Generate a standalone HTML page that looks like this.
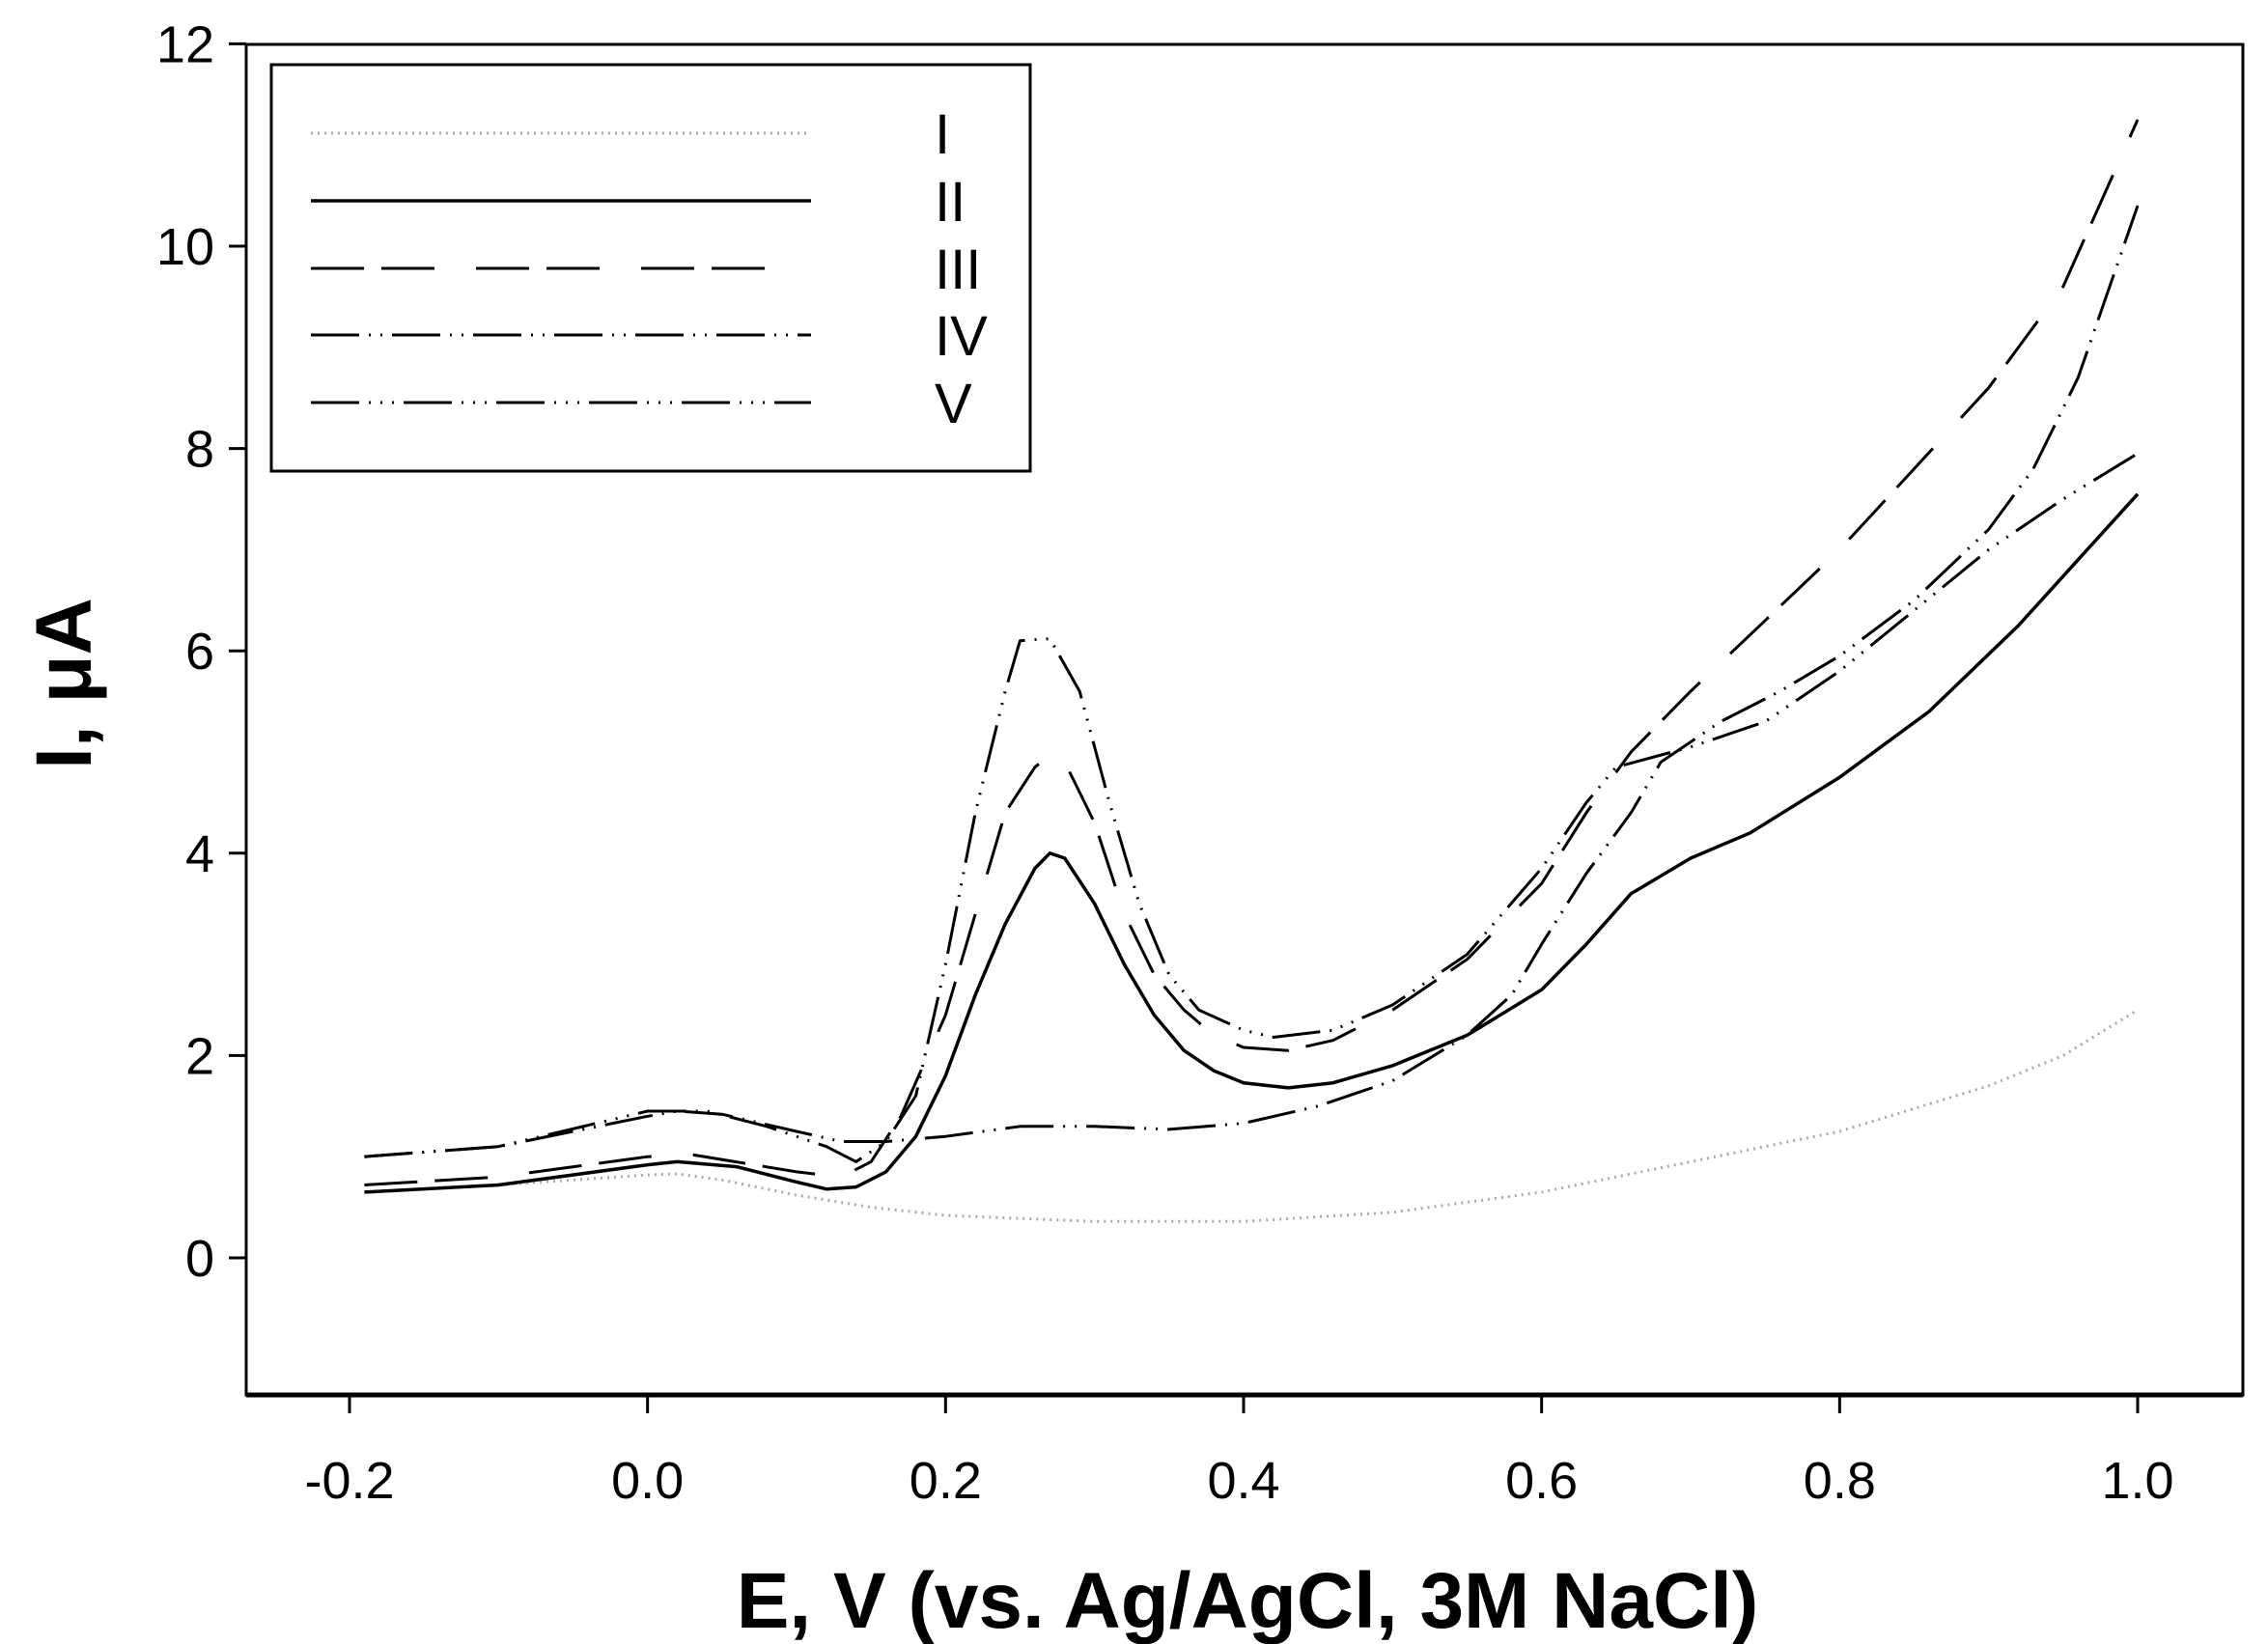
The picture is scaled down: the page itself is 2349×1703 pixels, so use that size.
<!DOCTYPE html>
<html><head><meta charset="utf-8"><style>
html,body{margin:0;padding:0;background:#fff;}
svg{display:block;font-family:"Liberation Sans",Arial,sans-serif;}
</style></head><body>
<svg id="s" width="2349" height="1703" viewBox="0 0 2349 1703" xmlns="http://www.w3.org/2000/svg">
<rect x="0" y="0" width="2349" height="1703" fill="#fff"/>
<rect x="255" y="46" width="2068" height="1399" fill="none" stroke="#000" stroke-width="3"/>
<line x1="255" y1="1445" x2="2323" y2="1445" stroke="#000" stroke-width="5"/>
<g id="ticks" stroke="#000" stroke-width="3"></g>
<g id="labels" font-size="54" fill="#000"></g>
<g id="curves" fill="none" stroke="#000" stroke-width="3" stroke-linejoin="round"></g>
<rect x="281" y="67" width="786" height="421" fill="none" stroke="#000" stroke-width="3"/>
<g stroke-width="3">
<line x1="322" y1="138" x2="840" y2="138" stroke="#aaa" stroke-dasharray="2 5"/>
<line x1="322" y1="208" x2="840" y2="208" stroke="#000" stroke-width="3.5"/>
<line x1="322" y1="278" x2="800" y2="278" stroke="#000" stroke-dasharray="55 18 55 43"/>
<line x1="322" y1="347" x2="840" y2="347" stroke="#000" stroke-dasharray="50 10 2 10 2 10"/>
<line x1="322" y1="417" x2="840" y2="417" stroke="#000" stroke-dasharray="50 10 2 10 2 10 2 10"/>
</g>
<g font-size="58" fill="#000">
<text x="968" y="159">I</text>
<text x="968" y="229">II</text>
<text x="968" y="299">III</text>
<text x="968" y="368">IV</text>
<text x="968" y="438">V</text>
</g>
<text x="1292" y="1686" font-size="82" font-weight="bold" text-anchor="middle">E, V (vs. Ag/AgCl, 3M NaCl)</text>
<text transform="translate(94,708) rotate(-90)" font-size="82" font-weight="bold" text-anchor="middle">I, μA</text>
</svg>
<script>
var NS="http://www.w3.org/2000/svg";
function px(x){return 362+(x+0.2)*1543.33;}
function py(y){return 1303-y*104.8;}
var tk=document.getElementById('ticks'),lb=document.getElementById('labels');
function el(p,n,a){var e=document.createElementNS(NS,n);for(var k in a)e.setAttribute(k,a[k]);p.appendChild(e);return e;}
for(var i=0;i<=12;i+=2){var y=py(i);el(tk,'line',{x1:237,y1:y,x2:255,y2:y});var t=el(lb,'text',{x:222,y:y+19,'text-anchor':'end'});t.textContent=i;}
var xs=[-0.2,0,0.2,0.4,0.6,0.8,1.0];
xs.forEach(function(x){var X=px(x);el(tk,'line',{x1:X,y1:1445,x2:X,y2:1464});var t=el(lb,'text',{x:X,y:1552,'text-anchor':'middle'});t.textContent=x.toFixed(1);});
var C=[
[[-0.19,0.65],[-0.1,0.72],[0,0.82],[0.02,0.83],[0.05,0.77],[0.1,0.62],[0.15,0.5],[0.2,0.42],[0.3,0.36],[0.4,0.36],[0.5,0.45],[0.6,0.65],[0.7,0.95],[0.8,1.25],[0.9,1.7],[0.95,2.0],[1.0,2.45]],
[[-0.19,0.65],[-0.1,0.72],[0,0.92],[0.02,0.95],[0.06,0.9],[0.1,0.75],[0.12,0.68],[0.14,0.7],[0.16,0.85],[0.18,1.2],[0.2,1.8],[0.22,2.6],[0.24,3.3],[0.26,3.85],[0.27,4.0],[0.28,3.95],[0.3,3.5],[0.32,2.9],[0.34,2.4],[0.36,2.05],[0.38,1.85],[0.4,1.73],[0.43,1.68],[0.46,1.73],[0.5,1.9],[0.55,2.2],[0.6,2.65],[0.63,3.1],[0.66,3.6],[0.7,3.95],[0.74,4.2],[0.8,4.75],[0.86,5.4],[0.92,6.25],[1.0,7.55]],
[[-0.19,0.72],[-0.1,0.8],[0,1.0],[0.03,1.02],[0.1,0.85],[0.13,0.8],[0.15,0.95],[0.17,1.4],[0.2,2.4],[0.22,3.4],[0.24,4.4],[0.26,4.85],[0.27,4.97],[0.28,4.9],[0.3,4.3],[0.32,3.4],[0.34,2.8],[0.36,2.45],[0.38,2.2],[0.4,2.08],[0.43,2.05],[0.46,2.15],[0.5,2.45],[0.55,2.95],[0.6,3.7],[0.63,4.4],[0.66,5.0],[0.7,5.6],[0.75,6.3],[0.8,7.0],[0.85,7.8],[0.9,8.6],[0.95,9.6],[1.0,11.25]],
[[-0.19,1.0],[-0.1,1.1],[0,1.4],[0.02,1.45],[0.05,1.42],[0.1,1.25],[0.13,1.15],[0.16,1.15],[0.2,1.2],[0.25,1.3],[0.3,1.3],[0.35,1.27],[0.4,1.33],[0.45,1.5],[0.5,1.75],[0.55,2.2],[0.58,2.6],[0.6,3.1],[0.63,3.8],[0.66,4.4],[0.68,4.9],[0.72,5.3],[0.76,5.6],[0.8,5.95],[0.85,6.5],[0.9,7.2],[0.93,7.8],[0.96,8.7],[1.0,10.4]],
[[-0.19,1.0],[-0.1,1.1],[0,1.45],[0.04,1.45],[0.08,1.3],[0.12,1.1],[0.14,0.95],[0.16,1.15],[0.18,1.6],[0.2,2.9],[0.22,4.4],[0.24,5.6],[0.25,6.1],[0.27,6.12],[0.29,5.6],[0.31,4.5],[0.33,3.5],[0.35,2.8],[0.37,2.45],[0.4,2.25],[0.42,2.18],[0.46,2.25],[0.5,2.5],[0.55,3.0],[0.6,3.85],[0.63,4.5],[0.65,4.85],[0.7,5.05],[0.75,5.3],[0.8,5.8],[0.85,6.4],[0.9,7.0],[0.95,7.5],[1.0,7.95]]
];
var st=[{stroke:'#aaa','stroke-dasharray':'2 5'},{stroke:'#000','stroke-width':3.5},{stroke:'#000','stroke-dasharray':'55 18 55 43'},{stroke:'#000','stroke-dasharray':'50 10 2 10 2 10'},{stroke:'#000','stroke-dasharray':'50 10 2 10 2 10 2 10'}];
var g=document.getElementById('curves');
C.forEach(function(c,i){var d=c.map(function(p,j){return (j?'L':'M')+px(p[0]).toFixed(1)+','+py(p[1]).toFixed(1);}).join(' ');var a={d:d};for(var k in st[i])a[k]=st[i][k];el(g,'path',a);});
</script>
</body></html>
